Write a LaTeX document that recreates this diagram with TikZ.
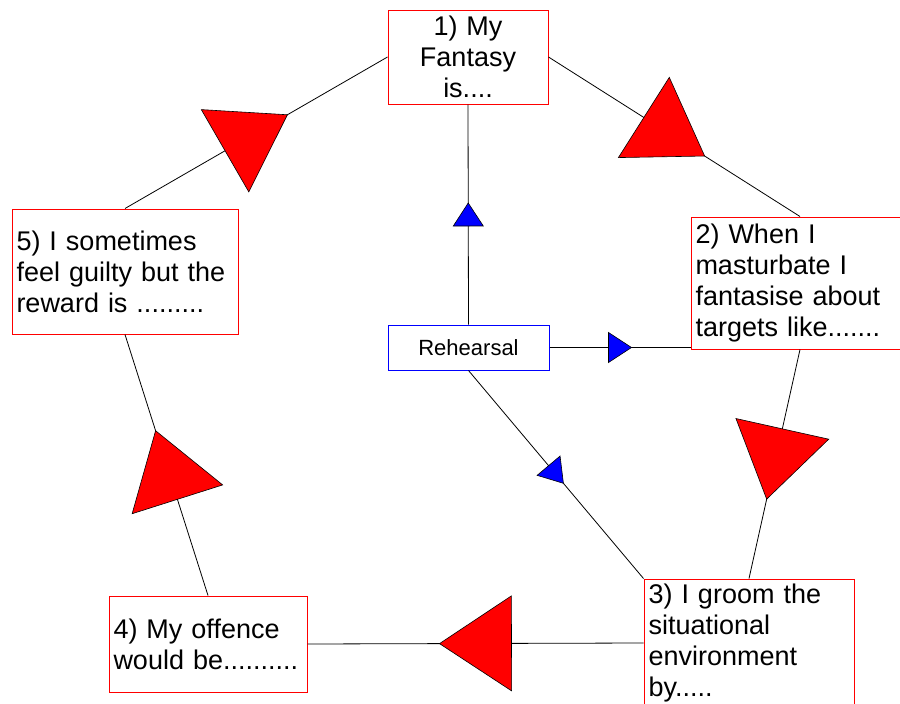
\documentclass[tikz,border=0pt]{standalone}
\usepackage{fontspec}
\setmainfont{Liberation Sans}
\usetikzlibrary{decorations.markings}

\begin{document}
\begin{tikzpicture}[x=1pt, y=-1pt,
    stage/.style={draw=red, line width=1pt, fill=white, inner sep=4.5pt,
      font=\fontsize{27}{31}\selectfont, align=left},
    rehbox/.style={draw=blue, line width=1pt, fill=white,
      minimum width=161pt, minimum height=45pt, font=\fontsize{22}{26}\selectfont},
    loopedge/.style={line width=0.8pt, postaction={decorate},
      decoration={markings, mark=at position 0.5 with {
        \filldraw[fill=red, draw=black, line width=0.6pt]
          (36pt,0pt) -- (-36pt,47.5pt) -- (-36pt,-47.5pt) -- cycle;}}},
    rehedge/.style={line width=0.8pt, postaction={decorate},
      decoration={markings, mark=at position 0.5 with {
        \filldraw[fill=blue, draw=black, line width=0.6pt]
          (11.5pt,0pt) -- (-11.5pt,15pt) -- (-11.5pt,-15pt) -- cycle;}}}]
  \useasboundingbox[fill=white] (0,0) rectangle (900,704);

  % the five stages of the cycle
  \node[stage, text width=151pt, minimum height=94pt, align=center] (fant) at (468,57)
    {1) My\\ Fantasy\\ is....};
  \node[stage, text width=209pt, minimum height=132pt] (targ) at (800,283)
    {2) When I\\ masturbate I\\ fantasise about\\ targets like.......};
  \node[stage, text width=201pt, minimum height=128pt] (groom) at (749,643)
    {3) I groom the\\ situational\\ environment\\ by.....};
  \node[stage, text width=189pt, minimum height=96pt] (off) at (208,644)
    {4) My offence\\ would be..........};
  \node[stage, text width=217pt, minimum height=125pt] (guilt) at (125,271.5)
    {5) I sometimes\\ feel guilty but the\\ reward is .........};
  \node[rehbox] (reh) at (468.5,347.5) {Rehearsal};

  \draw[loopedge] (fant.east)   -- (targ.north);
  \draw[loopedge] (targ.south)  -- (groom.north);
  \draw[loopedge] (groom.west)  -- (off.east);
  \draw[loopedge] (off.north)   -- (guilt.south);
  \draw[loopedge] (guilt.north) -- (fant.west);

  % rehearsal feeds three stages
  \draw[rehedge] (reh.north) -- (fant.south);
  \draw[rehedge] (reh.east)  -- (reh.east -| targ.west);
  \draw[rehedge] (reh.south) -- (groom.north west);
\end{tikzpicture}
\end{document}
